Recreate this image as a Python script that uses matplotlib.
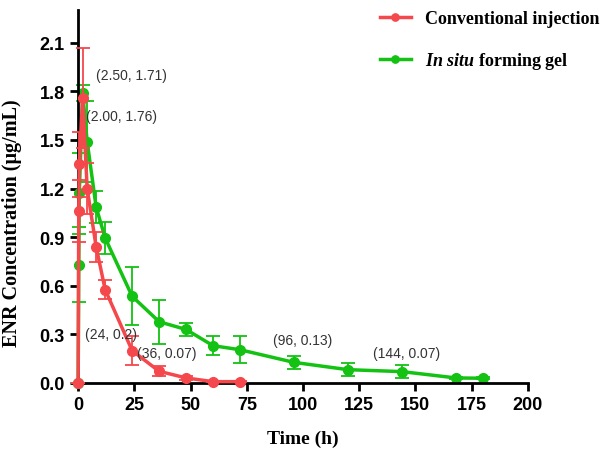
import numpy as np
import matplotlib
matplotlib.use("Agg")
import matplotlib.pyplot as plt

# data
t_conv = [0, 0.25, 0.5, 2, 4, 8, 12, 24, 36, 48, 60, 72]
c_conv = [0, 1.06, 1.35, 1.76, 1.20, 0.84, 0.576, 0.20, 0.072, 0.031, 0.008, 0.008]
e_conv = [0, 0.19, 0.20, 0.31, 0.16, 0.093, 0.057, 0.09, 0.031, 0.01, 0.005, 0.005]

t_gel = [0, 0.25, 0.5, 2, 4, 8, 12, 24, 36, 48, 60, 72, 96, 120, 144, 168, 180]
c_gel = [0, 0.73, 1.17, 1.79, 1.49, 1.085, 0.895, 0.535, 0.378, 0.33, 0.23, 0.205,
         0.127, 0.082, 0.07, 0.031, 0.029]
e_gel = [0, 0.23, 0.25, 0.05, 0.25, 0.10, 0.10, 0.18, 0.137, 0.04, 0.058, 0.082,
         0.038, 0.04, 0.04, 0.005, 0.005]

notes = ["(2.50, 1.71)", "(2.00, 1.76)", "(24, 0.2)", "(36, 0.07)", "(96, 0.13)", "(144, 0.07)"]
note_x = [8, 3.5, 3.1, 26.2, 86.7, 131]
note_y = [1.90, 1.65, 0.30, 0.185, 0.265, 0.185]

xticks = [0, 25, 50, 75, 100, 125, 150, 175, 200]
yticks = [0.0, 0.3, 0.6, 0.9, 1.2, 1.5, 1.8, 2.1]

red = "#f5484c"
green = "#14c214"

plt.rcParams['mathtext.fontset'] = 'custom'
plt.rcParams['mathtext.it'] = 'Liberation Serif:italic:bold'
plt.rcParams['mathtext.rm'] = 'Liberation Serif:bold'

fig = plt.figure(figsize=(6.06, 4.56), dpi=100)
ax = fig.add_axes([0.129, 0.158, 0.742, 0.817])

eb1 = ax.errorbar(t_conv, c_conv, yerr=e_conv, color=red, marker="o", markersize=7,
                  linewidth=2.5, elinewidth=1.3, capsize=5, capthick=1.3,
                  clip_on=False, zorder=3)
eb2 = ax.errorbar(t_gel, c_gel, yerr=e_gel, color=green, marker="o", markersize=7,
                  linewidth=2.5, elinewidth=1.3, capsize=5, capthick=1.3,
                  clip_on=False, zorder=2)

for s, x, y in zip(notes, note_x, note_y):
    ax.text(x, y, s, fontsize=10, color="#333333", family="Liberation Sans",
            va="center", ha="left", zorder=5)

ax.set_xlim(0, 200)
ax.set_ylim(0, 2.3)
ax.set_xticks(xticks)
ax.set_yticks(yticks)
ax.set_yticklabels(["%.1f" % v for v in yticks])

for side in ["top", "right"]:
    ax.spines[side].set_visible(False)
for side in ["left", "bottom"]:
    ax.spines[side].set_linewidth(2)
ax.tick_params(width=2, length=6, labelsize=13)
for lab in ax.get_xticklabels() + ax.get_yticklabels():
    lab.set_fontweight("bold")
    lab.set_family("Liberation Sans")

ax.set_xlabel("Time (h)", fontsize=14, fontweight="bold", family="Liberation Serif", labelpad=12)
ax.set_ylabel("ENR Concentration (μg/mL)", fontsize=14.5, fontweight="bold",
              family="Liberation Serif")
ax.yaxis.set_label_coords(-0.124, 0.432)

leg = ax.legend([eb1[0], eb2[0]], ["Conventional injection", r"$\it{In\ situ}$ forming gel"],
                loc="upper left", bbox_to_anchor=(0.635, 1.045), frameon=False,
                prop={"family": "Liberation Serif", "weight": "bold", "size": 13},
                labelspacing=1.3, handlelength=1.7, markerscale=0.75)

fig.savefig("out.png", dpi=100)
